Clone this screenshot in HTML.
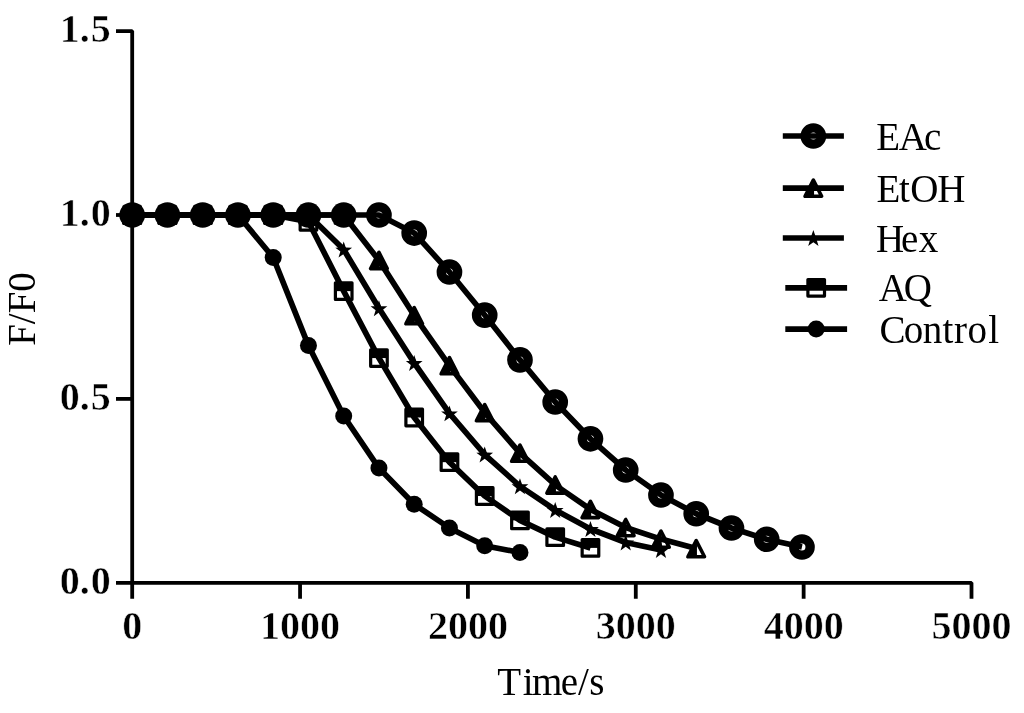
<!DOCTYPE html>
<html><head><meta charset="utf-8"><title>F/F0 vs Time</title>
<style>
html,body{margin:0;padding:0;background:#fff;}
body{width:1024px;height:713px;overflow:hidden;}
svg{display:block;will-change:transform;}
text{font-family:"Liberation Serif",serif;font-size:39px;fill:#000;}
text.b{font-weight:bold;font-size:40px;stroke:#fff;stroke-width:0.5px;paint-order:fill;}
</style></head><body>
<svg width="1024" height="713" viewBox="0 0 1024 713">
<rect width="1024" height="713" fill="#fff"/>
<path d="M116,31.1 H132.2 V598.75 M116,582.8 H971.5 V598.75" fill="none" stroke="#000" stroke-width="3.8" stroke-linejoin="bevel"/><path d="M116,215 H132.2" stroke="#000" stroke-width="3.8"/><path d="M116,398.9 H132.2" stroke="#000" stroke-width="3.8"/><path d="M300.06,582.8 V598.75" stroke="#000" stroke-width="3.8"/><path d="M467.92,582.8 V598.75" stroke="#000" stroke-width="3.8"/><path d="M635.78,582.8 V598.75" stroke="#000" stroke-width="3.8"/><path d="M803.64,582.8 V598.75" stroke="#000" stroke-width="3.8"/>
<path d="M132.2,215 L167.45,215 L202.7,215 L237.95,215 L273.2,257.48 L308.45,345.57 L343.7,416 L378.95,468.05 L414.2,504.24 L449.46,528 L484.71,545.76 L519.96,552.49" fill="none" stroke="#000" stroke-width="5.7" stroke-linejoin="round"/><path d="M132.2,215 L167.45,215 L202.7,215 L237.95,215 L273.2,215 L308.45,221.73 L343.7,291.13 L378.95,358.07 L414.2,417.51 L449.46,462.16 L484.71,496 L519.96,520.38 L555.21,537.12 L590.46,547.9" fill="none" stroke="#000" stroke-width="5.7" stroke-linejoin="round"/><path d="M132.2,215 L167.45,215 L202.7,215 L237.95,215 L273.2,215 L308.45,215 L343.7,249.57 L378.95,308.24 L414.2,363 L449.46,413.39 L484.71,454.51 L519.96,486.25 L555.21,509.98 L590.46,528.99 L625.71,542.49 L660.96,549.99" fill="none" stroke="#000" stroke-width="5.7" stroke-linejoin="round"/><path d="M132.2,215 L167.45,215 L202.7,215 L237.95,215 L273.2,215 L308.45,215 L343.7,215 L378.95,260.39 L414.2,315.59 L449.46,365.61 L484.71,412.51 L519.96,453.11 L555.21,484.97 L590.46,509.39 L625.71,527.48 L660.96,539.11 L696.21,548.59" fill="none" stroke="#000" stroke-width="5.7" stroke-linejoin="round"/><path d="M132.2,215 L167.45,215 L202.7,215 L237.95,215 L273.2,215 L308.45,215 L343.7,215 L378.95,215 L414.2,233.02 L449.46,272.01 L484.71,315.04 L519.96,359.91 L555.21,401.99 L590.46,438.77 L625.71,470 L660.96,495.01 L696.21,513.76 L731.46,528 L766.71,539.25 L801.96,547.01" fill="none" stroke="#000" stroke-width="5.7" stroke-linejoin="round"/>
<circle cx="132.2" cy="215" r="8.5" fill="#000"/><circle cx="167.45" cy="215" r="8.5" fill="#000"/><circle cx="202.7" cy="215" r="8.5" fill="#000"/><circle cx="237.95" cy="215" r="8.5" fill="#000"/><circle cx="273.2" cy="257.48" r="8.5" fill="#000"/><circle cx="308.45" cy="345.57" r="8.5" fill="#000"/><circle cx="343.7" cy="416" r="8.5" fill="#000"/><circle cx="378.95" cy="468.05" r="8.5" fill="#000"/><circle cx="414.2" cy="504.24" r="8.5" fill="#000"/><circle cx="449.46" cy="528" r="8.5" fill="#000"/><circle cx="484.71" cy="545.76" r="8.5" fill="#000"/><circle cx="519.96" cy="552.49" r="8.5" fill="#000"/><rect x="123.9" y="206.7" width="16.6" height="8.3" fill="#000"/><rect x="123.9" y="206.7" width="16.6" height="16.6" fill="none" stroke="#000" stroke-width="3.2" stroke-linejoin="round"/><rect x="159.15" y="206.7" width="16.6" height="8.3" fill="#000"/><rect x="159.15" y="206.7" width="16.6" height="16.6" fill="none" stroke="#000" stroke-width="3.2" stroke-linejoin="round"/><rect x="194.4" y="206.7" width="16.6" height="8.3" fill="#000"/><rect x="194.4" y="206.7" width="16.6" height="16.6" fill="none" stroke="#000" stroke-width="3.2" stroke-linejoin="round"/><rect x="229.65" y="206.7" width="16.6" height="8.3" fill="#000"/><rect x="229.65" y="206.7" width="16.6" height="16.6" fill="none" stroke="#000" stroke-width="3.2" stroke-linejoin="round"/><rect x="264.9" y="206.7" width="16.6" height="8.3" fill="#000"/><rect x="264.9" y="206.7" width="16.6" height="16.6" fill="none" stroke="#000" stroke-width="3.2" stroke-linejoin="round"/><rect x="300.15" y="213.43" width="16.6" height="8.3" fill="#000"/><rect x="300.15" y="213.43" width="16.6" height="16.6" fill="none" stroke="#000" stroke-width="3.2" stroke-linejoin="round"/><rect x="335.4" y="282.83" width="16.6" height="8.3" fill="#000"/><rect x="335.4" y="282.83" width="16.6" height="16.6" fill="none" stroke="#000" stroke-width="3.2" stroke-linejoin="round"/><rect x="370.65" y="349.77" width="16.6" height="8.3" fill="#000"/><rect x="370.65" y="349.77" width="16.6" height="16.6" fill="none" stroke="#000" stroke-width="3.2" stroke-linejoin="round"/><rect x="405.9" y="409.21" width="16.6" height="8.3" fill="#000"/><rect x="405.9" y="409.21" width="16.6" height="16.6" fill="none" stroke="#000" stroke-width="3.2" stroke-linejoin="round"/><rect x="441.16" y="453.86" width="16.6" height="8.3" fill="#000"/><rect x="441.16" y="453.86" width="16.6" height="16.6" fill="none" stroke="#000" stroke-width="3.2" stroke-linejoin="round"/><rect x="476.41" y="487.7" width="16.6" height="8.3" fill="#000"/><rect x="476.41" y="487.7" width="16.6" height="16.6" fill="none" stroke="#000" stroke-width="3.2" stroke-linejoin="round"/><rect x="511.66" y="512.08" width="16.6" height="8.3" fill="#000"/><rect x="511.66" y="512.08" width="16.6" height="16.6" fill="none" stroke="#000" stroke-width="3.2" stroke-linejoin="round"/><rect x="546.91" y="528.82" width="16.6" height="8.3" fill="#000"/><rect x="546.91" y="528.82" width="16.6" height="16.6" fill="none" stroke="#000" stroke-width="3.2" stroke-linejoin="round"/><rect x="582.16" y="539.6" width="16.6" height="8.3" fill="#000"/><rect x="582.16" y="539.6" width="16.6" height="16.6" fill="none" stroke="#000" stroke-width="3.2" stroke-linejoin="round"/><polygon points="132.2,207.04 134.27,212.99 140.57,213.12 135.55,216.93 137.37,222.96 132.2,219.36 127.03,222.96 128.85,216.93 123.83,213.12 130.13,212.99" fill="#000"/><polygon points="167.45,207.04 169.52,212.99 175.82,213.12 170.8,216.93 172.62,222.96 167.45,219.36 162.28,222.96 164.1,216.93 159.08,213.12 165.38,212.99" fill="#000"/><polygon points="202.7,207.04 204.77,212.99 211.07,213.12 206.05,216.93 207.87,222.96 202.7,219.36 197.53,222.96 199.35,216.93 194.33,213.12 200.63,212.99" fill="#000"/><polygon points="237.95,207.04 240.02,212.99 246.32,213.12 241.3,216.93 243.12,222.96 237.95,219.36 232.78,222.96 234.6,216.93 229.58,213.12 235.88,212.99" fill="#000"/><polygon points="273.2,207.04 275.27,212.99 281.57,213.12 276.55,216.93 278.37,222.96 273.2,219.36 268.03,222.96 269.85,216.93 264.83,213.12 271.13,212.99" fill="#000"/><polygon points="308.45,207.04 310.52,212.99 316.82,213.12 311.8,216.93 313.63,222.96 308.45,219.36 303.28,222.96 305.11,216.93 300.08,213.12 306.38,212.99" fill="#000"/><polygon points="343.7,241.61 345.77,247.57 352.07,247.69 347.05,251.5 348.88,257.53 343.7,253.93 338.53,257.53 340.36,251.5 335.33,247.69 341.63,247.57" fill="#000"/><polygon points="378.95,300.28 381.02,306.23 387.32,306.36 382.3,310.17 384.13,316.2 378.95,312.6 373.78,316.2 375.61,310.17 370.58,306.36 376.89,306.23" fill="#000"/><polygon points="414.2,355.04 416.27,361 422.57,361.12 417.55,364.93 419.38,370.96 414.2,367.36 409.03,370.96 410.86,364.93 405.84,361.12 412.14,361" fill="#000"/><polygon points="449.46,405.43 451.52,411.38 457.82,411.51 452.8,415.32 454.63,421.35 449.46,417.75 444.28,421.35 446.11,415.32 441.09,411.51 447.39,411.38" fill="#000"/><polygon points="484.71,446.55 486.78,452.5 493.08,452.63 488.05,456.44 489.88,462.47 484.71,458.87 479.53,462.47 481.36,456.44 476.34,452.63 482.64,452.5" fill="#000"/><polygon points="519.96,478.29 522.03,484.25 528.33,484.37 523.3,488.18 525.13,494.21 519.96,490.61 514.78,494.21 516.61,488.18 511.59,484.37 517.89,484.25" fill="#000"/><polygon points="555.21,502.02 557.28,507.97 563.58,508.1 558.55,511.9 560.38,517.94 555.21,514.34 550.03,517.94 551.86,511.9 546.84,508.1 553.14,507.97" fill="#000"/><polygon points="590.46,521.03 592.53,526.98 598.83,527.11 593.81,530.92 595.63,536.95 590.46,533.35 585.29,536.95 587.11,530.92 582.09,527.11 588.39,526.98" fill="#000"/><polygon points="625.71,534.53 627.78,540.48 634.08,540.61 629.06,544.42 630.88,550.45 625.71,546.85 620.54,550.45 622.36,544.42 617.34,540.61 623.64,540.48" fill="#000"/><polygon points="660.96,542.03 663.03,547.98 669.33,548.11 664.31,551.92 666.13,557.95 660.96,554.35 655.79,557.95 657.61,551.92 652.59,548.11 658.89,547.98" fill="#000"/><path d="M132.2,207 L132.9,207 L132.9,223.2 L123.9,223.2 Z" fill="#000"/><path d="M132.2,207 L123.9,223.2 L140.5,223.2 Z" fill="none" stroke="#000" stroke-width="3.6" stroke-linejoin="round"/><path d="M167.45,207 L168.15,207 L168.15,223.2 L159.15,223.2 Z" fill="#000"/><path d="M167.45,207 L159.15,223.2 L175.75,223.2 Z" fill="none" stroke="#000" stroke-width="3.6" stroke-linejoin="round"/><path d="M202.7,207 L203.4,207 L203.4,223.2 L194.4,223.2 Z" fill="#000"/><path d="M202.7,207 L194.4,223.2 L211,223.2 Z" fill="none" stroke="#000" stroke-width="3.6" stroke-linejoin="round"/><path d="M237.95,207 L238.65,207 L238.65,223.2 L229.65,223.2 Z" fill="#000"/><path d="M237.95,207 L229.65,223.2 L246.25,223.2 Z" fill="none" stroke="#000" stroke-width="3.6" stroke-linejoin="round"/><path d="M273.2,207 L273.9,207 L273.9,223.2 L264.9,223.2 Z" fill="#000"/><path d="M273.2,207 L264.9,223.2 L281.5,223.2 Z" fill="none" stroke="#000" stroke-width="3.6" stroke-linejoin="round"/><path d="M308.45,207 L309.15,207 L309.15,223.2 L300.15,223.2 Z" fill="#000"/><path d="M308.45,207 L300.15,223.2 L316.75,223.2 Z" fill="none" stroke="#000" stroke-width="3.6" stroke-linejoin="round"/><path d="M343.7,207 L344.4,207 L344.4,223.2 L335.4,223.2 Z" fill="#000"/><path d="M343.7,207 L335.4,223.2 L352,223.2 Z" fill="none" stroke="#000" stroke-width="3.6" stroke-linejoin="round"/><path d="M378.95,252.39 L379.65,252.39 L379.65,268.59 L370.65,268.59 Z" fill="#000"/><path d="M378.95,252.39 L370.65,268.59 L387.25,268.59 Z" fill="none" stroke="#000" stroke-width="3.6" stroke-linejoin="round"/><path d="M414.2,307.59 L414.9,307.59 L414.9,323.79 L405.9,323.79 Z" fill="#000"/><path d="M414.2,307.59 L405.9,323.79 L422.5,323.79 Z" fill="none" stroke="#000" stroke-width="3.6" stroke-linejoin="round"/><path d="M449.46,357.61 L450.16,357.61 L450.16,373.81 L441.16,373.81 Z" fill="#000"/><path d="M449.46,357.61 L441.16,373.81 L457.76,373.81 Z" fill="none" stroke="#000" stroke-width="3.6" stroke-linejoin="round"/><path d="M484.71,404.51 L485.41,404.51 L485.41,420.71 L476.41,420.71 Z" fill="#000"/><path d="M484.71,404.51 L476.41,420.71 L493.01,420.71 Z" fill="none" stroke="#000" stroke-width="3.6" stroke-linejoin="round"/><path d="M519.96,445.11 L520.66,445.11 L520.66,461.31 L511.66,461.31 Z" fill="#000"/><path d="M519.96,445.11 L511.66,461.31 L528.26,461.31 Z" fill="none" stroke="#000" stroke-width="3.6" stroke-linejoin="round"/><path d="M555.21,476.97 L555.91,476.97 L555.91,493.17 L546.91,493.17 Z" fill="#000"/><path d="M555.21,476.97 L546.91,493.17 L563.51,493.17 Z" fill="none" stroke="#000" stroke-width="3.6" stroke-linejoin="round"/><path d="M590.46,501.39 L591.16,501.39 L591.16,517.59 L582.16,517.59 Z" fill="#000"/><path d="M590.46,501.39 L582.16,517.59 L598.76,517.59 Z" fill="none" stroke="#000" stroke-width="3.6" stroke-linejoin="round"/><path d="M625.71,519.48 L626.41,519.48 L626.41,535.68 L617.41,535.68 Z" fill="#000"/><path d="M625.71,519.48 L617.41,535.68 L634.01,535.68 Z" fill="none" stroke="#000" stroke-width="3.6" stroke-linejoin="round"/><path d="M660.96,531.11 L661.66,531.11 L661.66,547.31 L652.66,547.31 Z" fill="#000"/><path d="M660.96,531.11 L652.66,547.31 L669.26,547.31 Z" fill="none" stroke="#000" stroke-width="3.6" stroke-linejoin="round"/><path d="M696.21,540.59 L696.91,540.59 L696.91,556.79 L687.91,556.79 Z" fill="#000"/><path d="M696.21,540.59 L687.91,556.79 L704.51,556.79 Z" fill="none" stroke="#000" stroke-width="3.6" stroke-linejoin="round"/><circle cx="132.2" cy="215" r="12.85" fill="#000"/><circle cx="167.45" cy="215" r="12.85" fill="#000"/><circle cx="202.7" cy="215" r="12.85" fill="#000"/><circle cx="237.95" cy="215" r="12.85" fill="#000"/><circle cx="273.2" cy="215" r="12.85" fill="#000"/><circle cx="308.45" cy="215" r="12.85" fill="#000"/><circle cx="343.7" cy="215" r="12.85" fill="#000"/><circle cx="378.95" cy="215" r="8.18" fill="none" stroke="#000" stroke-width="9.35"/><circle cx="414.2" cy="233.02" r="8.18" fill="none" stroke="#000" stroke-width="9.35"/><circle cx="449.46" cy="272.01" r="8.18" fill="none" stroke="#000" stroke-width="9.35"/><circle cx="484.71" cy="315.04" r="8.18" fill="none" stroke="#000" stroke-width="9.35"/><circle cx="519.96" cy="359.91" r="8.18" fill="none" stroke="#000" stroke-width="9.35"/><circle cx="555.21" cy="401.99" r="8.18" fill="none" stroke="#000" stroke-width="9.35"/><circle cx="590.46" cy="438.77" r="8.18" fill="none" stroke="#000" stroke-width="9.35"/><circle cx="625.71" cy="470" r="8.18" fill="none" stroke="#000" stroke-width="9.35"/><circle cx="660.96" cy="495.01" r="8.18" fill="none" stroke="#000" stroke-width="9.35"/><circle cx="696.21" cy="513.76" r="8.18" fill="none" stroke="#000" stroke-width="9.35"/><circle cx="731.46" cy="528" r="8.18" fill="none" stroke="#000" stroke-width="9.35"/><circle cx="766.71" cy="539.25" r="8.18" fill="none" stroke="#000" stroke-width="9.35"/><circle cx="801.96" cy="547.01" r="8.18" fill="none" stroke="#000" stroke-width="9.35"/>
<text x="110.8" y="42.4" dx="0 0 1" text-anchor="end" class="b">1.5</text><text x="110.8" y="226.3" dx="0 0 1" text-anchor="end" class="b">1.0</text><text x="110.8" y="410.2" dx="0 0 1" text-anchor="end" class="b">0.5</text><text x="110.8" y="594.1" dx="0 0 1" text-anchor="end" class="b">0.0</text><text x="132.2" y="638.5" text-anchor="middle" class="b">0</text><text x="300.06" y="638.5" text-anchor="middle" class="b">1000</text><text x="467.92" y="638.5" text-anchor="middle" class="b">2000</text><text x="635.78" y="638.5" text-anchor="middle" class="b">3000</text><text x="803.64" y="638.5" text-anchor="middle" class="b">4000</text><text x="971.5" y="638.5" text-anchor="middle" class="b">5000</text><text x="550.8" y="694.8" dx="0 3.1 -1.6 -1.5 0 0.3" text-anchor="middle" class="r">Time/s</text><text transform="translate(35,309) rotate(-90)" x="0" y="0" text-anchor="middle" class="r">F/F0</text>
<path d="M782.8,136 H843.9" stroke="#000" stroke-width="5.7"/><circle cx="813.35" cy="136" r="8.18" fill="none" stroke="#000" stroke-width="9.35"/><text x="876.8" y="150" dx="-0.65 -1.25 -2.85" class="r">EAc</text><path d="M782.8,188.1 H843.9" stroke="#000" stroke-width="5.7"/><path d="M813.35,180.1 L814.05,180.1 L814.05,196.3 L805.05,196.3 Z" fill="#000"/><path d="M813.35,180.1 L805.05,196.3 L821.65,196.3 Z" fill="none" stroke="#000" stroke-width="3.6" stroke-linejoin="round"/><text x="876.8" y="202.2" dx="-0.4 -1.15 0.3 -1.15" class="r">EtOH</text><path d="M782.8,238 H843.9" stroke="#000" stroke-width="5.7"/><polygon points="813.35,230.04 815.42,235.99 821.72,236.12 816.7,239.93 818.52,245.96 813.35,242.36 808.18,245.96 810,239.93 804.98,236.12 811.28,235.99" fill="#000"/><text x="876.8" y="252.4" dx="-0.85 -3.05 0.35" class="r">Hex</text><path d="M785.3,287.8 H847.1" stroke="#000" stroke-width="5.7"/><rect x="807.9" y="279.5" width="16.6" height="8.3" fill="#000"/><rect x="807.9" y="279.5" width="16.6" height="16.6" fill="none" stroke="#000" stroke-width="3.2" stroke-linejoin="round"/><text x="880" y="301.1" dx="-1.15 -3.35" class="r">AQ</text><path d="M785.3,329.1 H847.1" stroke="#000" stroke-width="5.7"/><circle cx="816.2" cy="329.1" r="8.5" fill="#000"/><text x="880" y="342.5" dx="-0.6 -1.6 -0.55 0.25 0.65 0.6 1.25" class="r">Control</text>
</svg>
</body></html>
